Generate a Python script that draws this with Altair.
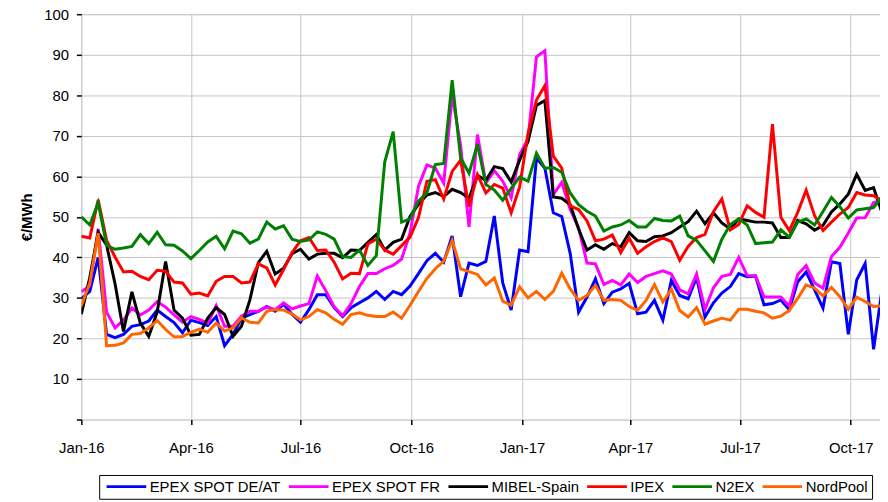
import altair as alt
import pandas as pd

series_names = ["EPEX SPOT DE/AT", "EPEX SPOT FR", "MIBEL-Spain", "IPEX", "N2EX", "NordPool"]
series_colors = ["#0000FF", "#FF00FF", "#000000", "#FF0000", "#008000", "#FF6600"]

first_week = "2016-01-01"
n_weeks = 96

epex_de = [29.8, 31.6, 40.0, 21.0, 20.2, 21.0, 23.0, 23.4, 24.3, 27.0,
           25.4, 23.9, 21.4, 24.5, 23.9, 23.2, 25.4, 18.2, 21.0, 25.0,
           25.9, 26.7, 27.9, 26.7, 28.4, 26.0, 24.0, 27.1, 30.8, 30.8,
           27.6, 25.4, 27.6, 28.8, 30.0, 31.6, 29.6, 31.6, 30.8, 32.9,
           36.0, 39.2, 41.0, 38.8, 45.3, 30.3, 38.6, 38.0, 39.0, 50.2,
           33.7, 27.0, 41.8, 41.4, 64.5, 62.0, 51.0, 50.1, 41.0, 26.5,
           30.2, 34.7, 28.6, 31.4, 32.2, 33.6, 26.1, 26.5, 29.4, 24.5,
           34.3, 30.6, 29.8, 35.1, 25.3, 28.8, 31.2, 32.8, 36.0, 35.2,
           35.4, 28.3, 28.6, 29.5, 27.1, 34.0, 36.4, 32.0, 27.5, 38.9,
           38.5, 21.0, 34.4, 38.5, 17.3, 32.0]

epex_fr = [31.5, 33.0, 47.0, 26.5, 22.6, 24.5, 27.5, 25.8, 27.0, 29.1,
           27.7, 25.8, 24.0, 25.4, 24.7, 23.8, 28.1, 23.0, 23.0, 25.5,
           26.7, 26.7, 27.8, 27.1, 28.8, 27.3, 28.0, 28.6, 35.4, 31.8,
           27.8, 25.6, 28.6, 32.8, 36.0, 36.0, 37.2, 38.0, 39.6, 46.0,
           57.5, 62.8, 62.0, 58.3, 80.0, 67.7, 47.5, 70.3, 58.3, 61.4,
           58.8, 54.7, 65.3, 69.3, 89.5, 91.0, 55.5, 58.5, 51.8, 47.3,
           38.6, 38.4, 33.3, 34.3, 33.2, 35.9, 33.8, 35.3, 36.0, 36.7,
           35.9, 32.0, 31.0, 35.9, 27.2, 32.5, 35.3, 35.8, 40.0, 35.5,
           35.5, 30.2, 30.2, 30.2, 28.0, 35.8, 38.0, 33.7, 32.4, 40.2,
           42.5, 46.0, 49.7, 49.8, 53.5, 54.0]

mibel = [26.0, 35.0, 46.2, 43.0, 33.5, 21.7, 31.5, 23.8, 20.5, 26.5,
         39.0, 27.0, 25.0, 20.8, 21.0, 25.0, 27.6, 25.9, 20.5, 23.0,
         29.5, 38.7, 41.5, 35.9, 37.3, 40.9, 42.0, 39.6, 40.8, 41.0,
         41.0, 39.9, 41.8, 41.7, 43.7, 45.6, 41.8, 43.7, 44.5, 50.1,
         53.1, 55.4, 56.0, 55.0, 56.8, 56.0, 54.6, 60.2, 59.0, 62.4,
         61.9, 58.6, 64.0, 68.6, 77.5, 78.7, 54.9, 54.6, 53.0, 47.0,
         41.8, 43.1, 42.0, 43.4, 42.6, 46.1, 44.1, 43.9, 45.1, 45.3,
         46.1, 47.5, 48.8, 51.4, 48.3, 51.0, 48.5, 47.0, 49.5, 49.1,
         48.7, 48.7, 48.5, 44.9, 44.9, 49.1, 48.3, 46.7, 47.9, 51.2,
         53.2, 55.6, 60.5, 56.5, 57.2, 51.0]

ipex = [45.2, 44.8, 54.2, 44.2, 40.1, 36.4, 36.6, 35.3, 34.5, 36.8,
        36.6, 33.9, 33.7, 30.9, 31.2, 30.5, 34.1, 35.3, 35.3, 33.7,
        33.9, 38.4, 37.4, 33.2, 37.0, 41.2, 44.1, 44.9, 41.7, 41.8,
        38.8, 34.7, 36.1, 36.0, 43.3, 44.5, 41.8, 40.8, 42.9, 45.0,
        49.8, 58.8, 59.2, 54.4, 61.2, 64.0, 52.5, 60.4, 55.9, 58.0,
        57.1, 51.0, 57.3, 70.6, 78.8, 82.4, 65.0, 62.0, 52.7, 51.8,
        49.0, 44.1, 44.5, 45.5, 41.2, 44.7, 41.0, 42.6, 43.9, 44.8,
        43.9, 39.3, 42.7, 44.9, 45.7, 51.3, 54.4, 46.8, 48.1, 52.7,
        51.1, 49.9, 72.9, 49.9, 46.6, 51.1, 56.6, 50.3, 46.6, 48.7,
        50.7, 52.3, 56.0, 55.4, 55.2, 54.0]

n2ex = [50.0, 48.0, 53.5, 43.0, 42.0, 42.3, 42.7, 45.6, 43.4, 46.2,
        43.1, 43.0, 41.6, 39.7, 41.7, 43.8, 45.2, 42.1, 46.5, 45.8,
        43.5, 44.5, 48.7, 47.0, 47.8, 44.5, 43.9, 44.3, 46.3, 45.7,
        44.5, 40.2, 40.0, 41.8, 38.0, 40.4, 63.6, 71.0, 48.7, 49.5,
        53.9, 55.9, 62.9, 63.2, 83.7, 64.5, 60.8, 67.9, 58.0, 56.6,
        54.1, 57.0, 59.8, 58.8, 65.7, 62.0, 62.2, 61.0, 55.9, 53.0,
        51.4, 50.2, 46.5, 47.5, 48.0, 49.1, 47.5, 47.5, 49.6, 49.1,
        49.0, 50.2, 45.3, 44.2, 41.6, 39.0, 44.5, 48.1, 49.5, 48.0,
        43.4, 43.6, 43.8, 46.8, 45.0, 48.7, 49.5, 48.0, 51.3, 54.8,
        52.5, 49.7, 51.7, 52.0, 52.3, 55.0]

nordpool = [28.0, 33.7, 46.0, 18.2, 18.3, 18.9, 21.0, 21.2, 22.6, 24.4,
            22.2, 20.4, 20.5, 21.5, 22.3, 21.5, 23.8, 21.8, 22.6, 25.1,
            24.0, 23.8, 26.7, 27.1, 27.0, 26.0, 24.6, 25.4, 27.1, 26.3,
            24.7, 23.5, 25.9, 26.3, 25.7, 25.4, 25.4, 26.5, 25.0, 28.2,
            31.6, 34.8, 37.2, 39.1, 44.2, 37.2, 36.5, 35.8, 33.2, 34.9,
            29.2, 28.2, 32.7, 30.0, 31.6, 29.6, 31.6, 36.1, 32.2, 29.4,
            30.6, 33.1, 29.4, 29.6, 29.4, 27.9, 26.9, 29.4, 33.3, 29.0,
            32.2, 26.9, 25.3, 27.6, 23.5, 24.3, 25.0, 24.5, 27.2, 27.2,
            26.7, 26.3, 25.0, 25.5, 26.9, 29.9, 33.2, 32.4, 30.5, 32.6,
            30.3, 27.2, 30.2, 29.1, 27.9, 28.0]

x_tick_months = [(2016, 1), (2016, 4), (2016, 7), (2016, 10),
                 (2017, 1), (2017, 4), (2017, 7), (2017, 10)]
y_ticks = [0, 10, 20, 30, 40, 50, 60, 70, 80, 90, 100]

weeks = pd.date_range(first_week, periods=n_weeks, freq="7D").strftime("%Y-%m-%d").tolist()
all_series = [epex_de, epex_fr, mibel, ipex, n2ex, nordpool]
rows = []
for name, vals in zip(series_names, all_series):
    for d, v in zip(weeks, vals):
        rows.append({"week": d, "series": name, "price": v})
df = pd.DataFrame(rows)

FONT = "Liberation Sans"

x_enc = alt.X(
    "week:T",
    scale=alt.Scale(
        type="utc",
        domain=[alt.DateTime(year=2016, month=1, date=1, utc=True),
                alt.DateTime(year=2017, month=10, date=25, hours=8, utc=True)],
        nice=False,
    ),
    axis=alt.Axis(
        values=[alt.DateTime(year=y, month=m, date=1, utc=True) for y, m in x_tick_months],
        labelExpr="utcFormat(datum.value, '%b-%y')",
        title=None,
        grid=True,
        gridColor="#c4c4c4",
        gridWidth=1,
        domain=False,
        ticks=True,
        tickSize=5,
        tickColor="black",
        tickWidth=1.5,
        labelFontSize=15,
        labelPadding=16,
        labelColor="black",
        labelFont=FONT,
        labelFlush=False,
        labelOverlap=False,
    ),
)

y_enc = alt.Y(
    "price:Q",
    scale=alt.Scale(domain=[0, 100], nice=False),
    axis=alt.Axis(
        values=y_ticks,
        labelExpr="datum.value == 0 ? '' : datum.label",
        title="€/MWh",
        titleFont=FONT,
        titleFontSize=15,
        titleFontWeight="bold",
        titleColor="black",
        titlePadding=9,
        grid=True,
        gridColor="#c4c4c4",
        gridWidth=1,
        domain=False,
        tickSize=5,
        tickColor="black",
        tickWidth=1.5,
        labelFontSize=15,
        labelPadding=8,
        labelColor="black",
        labelFont=FONT,
    ),
)

color_enc = alt.Color(
    "series:N",
    scale=alt.Scale(domain=series_names, range=series_colors),
    legend=alt.Legend(
        title=None,
        orient="none",
        legendX=18,
        legendY=465,
        offset=0,
        direction="horizontal",
        columns=6,
        symbolType="M-5,0L5,0",
        symbolSize=64,
        symbolStrokeWidth=3,
        symbolOffset=16,
        labelFontSize=15,
        labelFont=FONT,
        labelColor="black",
        labelOffset=16,
        columnPadding=1,
        padding=4,
        strokeColor="black",
        fillColor="white",
    ),
)

base = alt.Chart(df).encode(x=x_enc, y=y_enc, color=color_enc)
layers = [
    base.transform_filter(alt.datum.series == name).mark_line(strokeWidth=3, clip=True)
    for name in series_names
]

chart = (
    alt.layer(*layers)
    .properties(
        width=806,
        height=409,
        autosize=alt.AutoSizeParams(type="none"),
        padding={"left": 74, "top": 4, "right": 0, "bottom": 81},
        background="white",
    )
    .configure_view(stroke="black", strokeWidth=2)
    .configure(font=FONT)
)

chart.save("out.html", embed_options={"renderer": "svg", "actions": False})
